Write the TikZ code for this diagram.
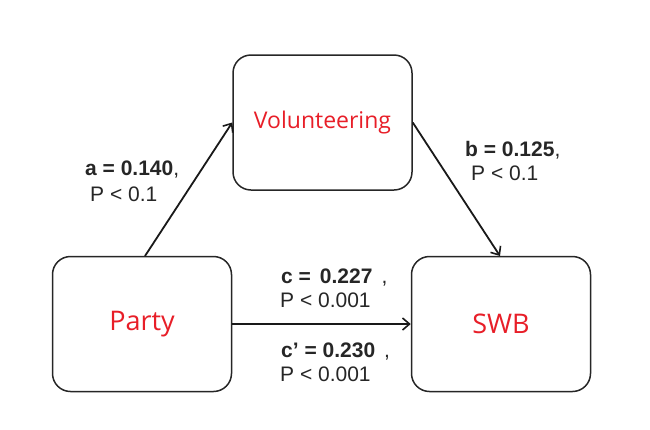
\documentclass[tikz,border=0pt]{standalone}
\usepackage{fontspec}
\setmainfont{Liberation Sans}
\newfontfamily\boxfont{Open Sans}
\usetikzlibrary{arrows.meta}
\definecolor{boxred}{RGB}{232,30,40}
\begin{document}
\begin{tikzpicture}[x=1pt,y=-1pt,
  box/.style={draw=black!85,line width=1.5pt,rounded corners=18pt,fill=white,
    minimum width=179pt,minimum height=135pt,inner sep=0pt,text=boxred},
  conn/.style={draw=black!90,line width=1.8pt,-{Straight Barb[length=7pt,width=12pt,line width=1.6pt]}},
  lbl/.style={anchor=base west,inner sep=0pt,font=\fontsize{21}{24}\selectfont,text=black!85}]
\useasboundingbox (0,0) rectangle (650,429);
\node[box,font=\boxfont\fontsize{23}{26}\selectfont] (vol) at (322.5,122.5) {Volunteering};
\node[box,font=\boxfont\fontsize{27}{30}\selectfont] (party) at (142,324) {Party};
\node[box,font=\boxfont\fontsize{27}{30}\selectfont] (swb) at (501,324) {SWB};
\draw[conn] (145,256) coordinate (pa) -- (vol.west);
\draw[conn] (vol.east) -- (500,256) coordinate (sb);
\draw[conn] (party.east) -- (swb.west);
\node[lbl] (la1) at (85,175) {\textbf{a = 0.140},};
\node[lbl] (la2) at (90,201) {P < 0.1};
\node[lbl] (lb1) at (465,156) {\textbf{b = 0.125},};
\node[lbl] (lb2) at (471,180) {P < 0.1};
\node[lbl] (lc1) at (281,283) {\textbf{c =}\hspace{9pt}\textbf{0.227}\hspace{9pt},};
\node[lbl] (lc2) at (280,307) {P < 0.001};
\node[lbl] (ld1) at (281,357) {\textbf{c' = 0.230}\hspace{9pt},};
\node[lbl] (ld2) at (280,381) {P < 0.001};
\end{tikzpicture}
\end{document}
